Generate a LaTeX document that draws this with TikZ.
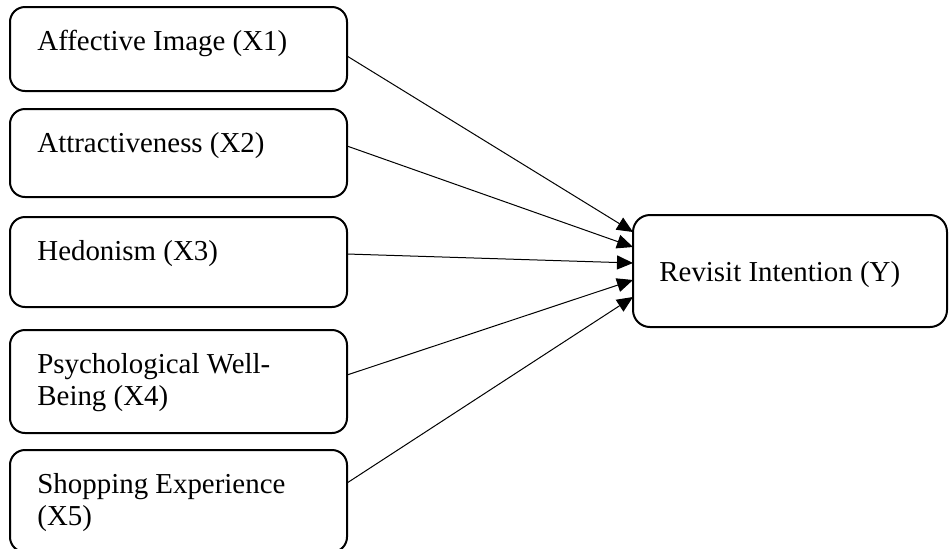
\documentclass[tikz,border=0pt]{standalone}
\usepackage{fontspec}
\setmainfont{Liberation Serif}
\usetikzlibrary{arrows.meta, positioning, calc}
\tikzset{
    var/.style={draw, line width=1pt, rounded corners=7.5pt, minimum width=168.5pt, inner sep=0pt, outer sep=0pt},
    vartext/.style={anchor=base west, align=left, inner sep=0pt, font=\fontsize{14.45}{16}\selectfont},
    link/.style={line width=0.5pt, -{Triangle[length=8pt, width=7pt]}},
}

\begin{document}
\begin{tikzpicture}
    \tikzset{
      x=0.5pt, y=-0.5pt
    }
    \useasboundingbox (0,0) rectangle (949,548);

    \node[var, minimum height=42pt, anchor=north west] (x1) at (10,7) {};
    \node[var, minimum height=44pt, below=9pt of x1] (x2) {};
    \node[var, minimum height=45pt, below=10pt of x2] (x3) {};
    \node[var, minimum height=51.5pt, below=11.5pt of x3] (x4) {};
    \node[var, minimum height=51pt, below=8.5pt of x4] (x5) {};

    \node[var, minimum width=157pt, minimum height=56pt, rounded corners=8.5pt, anchor=north west] (rv) at (633,215) {};

    \node[vartext] (t1) at ([shift={(13.5pt,-21.5pt)}]x1.north west) {Affective Image (X1)};
    \node[vartext] (t2) at ([shift={(13.5pt,-21.5pt)}]x2.north west) {Attractiveness (X2)};
    \node[vartext] (t3) at ([shift={(13.5pt,-21.5pt)}]x3.north west) {Hedonism (X3)};
    \node[vartext] (t4) at ([shift={(13.5pt,-37.5pt)}]x4.north west) {Psychological Well-\\Being (X4)};
    \node[vartext] (t5) at ([shift={(13.5pt,-37.5pt)}]x5.north west) {Shopping Experience\\(X5)};
    \node[vartext] (ty) at ([shift={(13pt,-33pt)}]rv.north west) {Revisit Intention (Y)};

    \draw[link] ([yshift=-24.5pt]x1.north east) -- ([yshift=-8.5pt]rv.north west);
    \draw[link] ([yshift=-18.5pt]x2.north east) -- ([yshift=-16pt]rv.north west);
    \draw[link] ([yshift=-18.5pt]x3.north east) -- ([yshift=-24pt]rv.north west);
    \draw[link] ([yshift=-22.5pt]x4.north east) -- ([yshift=-32.5pt]rv.north west);
    \draw[link] ([yshift=-16.5pt]x5.north east) -- ([yshift=-41pt]rv.north west);
\end{tikzpicture}
\end{document}
